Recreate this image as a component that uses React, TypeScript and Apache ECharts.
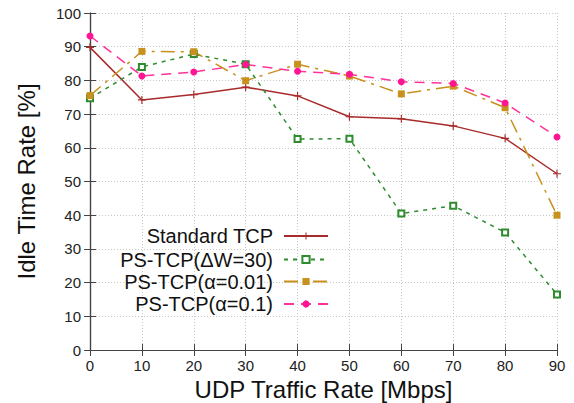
import React, { useEffect, useRef } from "react";
import * as echarts from "echarts";

const xValues = [0, 10, 20, 30, 40, 50, 60, 70, 80, 90];
const standardTcp = [89.8, 74.2, 75.8, 78.0, 75.4, 69.2, 68.6, 66.5, 62.8, 52.3];
const psTcpDw30 = [74.7, 84.0, 87.8, 84.8, 62.6, 62.7, 40.5, 42.8, 34.9, 16.5];
const psTcpA001 = [75.5, 88.6, 88.5, 79.9, 84.8, 81.3, 76.0, 78.3, 71.9, 40.0];
const psTcpA01 = [93.2, 81.3, 82.5, 84.7, 82.7, 81.8, 79.6, 79.1, 73.3, 63.2];
const seriesNames = ["Standard TCP", "PS-TCP(ΔW=30)", "PS-TCP(α=0.01)", "PS-TCP(α=0.1)"];

const FONT = "'Liberation Sans', Arial, Helvetica, sans-serif";
const PLUS = "path://M3,0h1v3h3v1h-3v3h-1v-3h-3v-1h3z";

export default function App() {
  const ref = useRef<HTMLDivElement>(null);
  useEffect(() => {
    if (!ref.current) return;
    const chart = echarts.init(ref.current, undefined, { renderer: "svg" });
    const pair = (ys: number[]) => xValues.map((x, i) => [x, ys[i]]);
    const axisColor = "#444";
    const gridLine = { show: true, lineStyle: { color: "#c8c8c8", type: [1, 2] as any, width: 1 } };
    const hiddenAxis = (pos: string, isX: boolean) => ({
      type: "value",
      position: pos,
      min: 0,
      max: isX ? 90 : 100,
      interval: 10,
      axisLine: { show: true, lineStyle: { color: axisColor, width: 1.2 } },
      axisTick: { show: true, inside: true, length: 6, lineStyle: { color: axisColor } },
      axisLabel: { show: false },
      splitLine: { show: false },
    });
    const legendRows = [236, 259.5, 281.5, 304];
    chart.setOption({
      animation: false,
      backgroundColor: "#fff",
      grid: { left: 90, right: 17, top: 13, bottom: 53, outerBoundsMode: "none", containLabel: false },
      xAxis: [
        {
          type: "value",
          min: 0,
          max: 90,
          interval: 10,
          name: "UDP Traffic Rate [Mbps]",
          nameLocation: "middle",
          nameGap: 27,
          nameTextStyle: { fontFamily: FONT, fontSize: 24, color: "#111" },
          axisLine: { show: true, onZero: false, lineStyle: { color: axisColor, width: 1.2 } },
          axisTick: { show: true, inside: true, length: 6, lineStyle: { color: axisColor } },
          axisLabel: { fontFamily: FONT, fontSize: 15, color: "#222", margin: 8 },
          splitLine: gridLine,
        },
        hiddenAxis("top", true),
      ],
      yAxis: [
        {
          type: "value",
          min: 0,
          max: 100,
          interval: 10,
          name: "Idle Time Rate [%]",
          nameLocation: "middle",
          nameGap: 52,
          nameTextStyle: { fontFamily: FONT, fontSize: 24, color: "#111" },
          axisLine: { show: true, onZero: false, lineStyle: { color: axisColor, width: 1.2 } },
          axisTick: { show: true, inside: true, length: 6, lineStyle: { color: axisColor } },
          axisLabel: { fontFamily: FONT, fontSize: 15, color: "#222", margin: 9 },
          splitLine: gridLine,
        },
        hiddenAxis("right", false),
      ],
      legend: seriesNames.map((n, i) => ({
        data: [n],
        orient: "vertical",
        align: "right",
        right: 245,
        top: legendRows[i] - 11,
        padding: 0,
        itemWidth: 44,
        itemHeight: 9,
        selectedMode: false,
        textStyle: { fontFamily: FONT, fontSize: 20, color: "#111", lineHeight: 22, padding: [0, 6, 0, 0] },
      })),
      series: [
        {
          name: seriesNames[0],
          type: "line",
          data: pair(standardTcp),
          symbol: PLUS,
          symbolSize: 8,
          itemStyle: { color: "#a82a2a" },
          lineStyle: { color: "#a82a2a", width: 1.5, type: "solid" },
        },
        {
          name: seriesNames[1],
          type: "line",
          data: pair(psTcpDw30),
          symbol: "emptyRect",
          symbolSize: 6,
          itemStyle: { color: "#2e8b2e", borderColor: "#2e8b2e", borderWidth: 1.3 },
          lineStyle: { color: "#2e8b2e", width: 1.5, type: [4, 5] },
        },
        {
          name: seriesNames[2],
          type: "line",
          data: pair(psTcpA001),
          symbol: "rect",
          symbolSize: 7,
          itemStyle: { color: "#c8911e" },
          lineStyle: { color: "#c8911e", width: 1.5, type: [14, 6, 3, 6] },
        },
        {
          name: seriesNames[3],
          type: "line",
          data: pair(psTcpA01),
          symbol: "circle",
          symbolSize: 7,
          itemStyle: { color: "#ff1493" },
          lineStyle: { color: "#ff3399", width: 1.5, type: [10, 7] },
        },
      ],
    });
    return () => chart.dispose();
  }, []);
  return <div ref={ref} style={{ width: 574, height: 403, position: "absolute", left: 0, top: 0 }} />;
}
